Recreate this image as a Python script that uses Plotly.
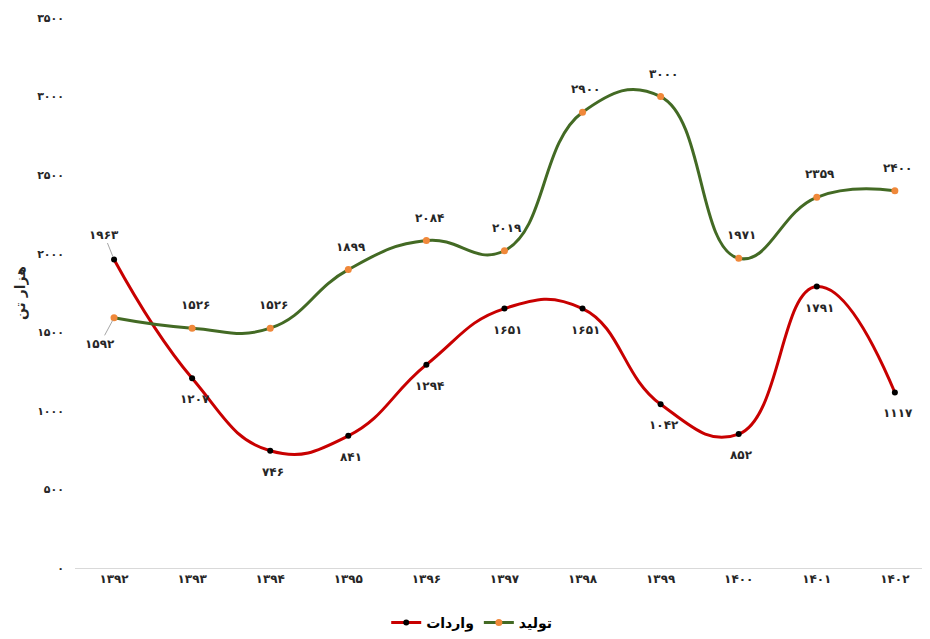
import plotly.graph_objects as go

years = ["1392", "1393", "1394", "1395", "1396", "1397", "1398", "1399", "1400", "1401", "1402"]
imports = [1963, 1207, 746, 841, 1294, 1651, 1651, 1042, 852, 1791, 1117]
production = [1592, 1526, 1526, 1899, 2084, 2019, 2900, 3000, 1971, 2359, 2400]
y_ticks = [0, 500, 1000, 1500, 2000, 2500, 3000, 3500]

FA = str.maketrans("0123456789", "۰۱۲۳۴۵۶۷۸۹")
def fa(v):
    return str(v).translate(FA)

x_idx = list(range(len(years)))
FONT = "DejaVu Sans"

fig = go.Figure()
fig.add_trace(go.Scatter(
    x=x_idx, y=imports, name="واردات", mode="lines+markers",
    line=dict(color="#C80000", width=3, shape="spline", smoothing=1.3),
    marker=dict(color="#000000", size=6),
))
fig.add_trace(go.Scatter(
    x=x_idx, y=production, name="تولید", mode="lines+markers",
    line=dict(color="#436A24", width=3, shape="spline", smoothing=1.3),
    marker=dict(color="#F0883A", size=7),
))

lab_font = dict(family=FONT, size=12, color="#262626", weight="bold")
for i, v in enumerate(production):
    if i == 0:
        fig.add_annotation(x=i, y=v, text=fa(v), showarrow=True, arrowhead=0,
                           arrowwidth=1, arrowcolor="#A6A6A6", ax=-14, ay=26,
                           standoff=3, font=lab_font)
    else:
        fig.add_annotation(x=i, y=v, text=fa(v), showarrow=False, xshift=3,
                           yshift=23, font=lab_font)
for i, v in enumerate(imports):
    if i == 0:
        fig.add_annotation(x=i, y=v, text=fa(v), showarrow=True, arrowhead=0,
                           arrowwidth=1, arrowcolor="#A6A6A6", ax=-10, ay=-25,
                           standoff=3, font=lab_font)
    else:
        fig.add_annotation(x=i, y=v, text=fa(v), showarrow=False, xshift=3,
                           yshift=-21, font=lab_font)

fig.add_annotation(xref="paper", yref="paper", x=(12 - 67) / 855, y=0.5,
                   xanchor="center", yanchor="middle", text="هزار تن",
                   textangle=-90, showarrow=False,
                   font=dict(family=FONT, size=14, color="#262626", weight="bold"))

fig.update_layout(
    width=922, height=631,
    margin=dict(l=67, r=0, t=10, b=69),
    plot_bgcolor="white", paper_bgcolor="white",
    font=dict(family=FONT, color="#262626"),
    showlegend=True,
    legend=dict(orientation="h", x=0.464, xanchor="center", y=-0.10, yanchor="middle",
                font=dict(family=FONT, size=14, color="#000000", weight="bold")),
    xaxis=dict(range=[-0.5, 10.45], tickvals=x_idx, ticktext=[fa(y) for y in years],
               showgrid=False, zeroline=False, showline=True, linecolor="#D9D9D9",
               linewidth=1, ticks="", tickfont=dict(family=FONT, size=12, color="#262626", weight="bold")),
    yaxis=dict(range=[0, 3500], tickvals=y_ticks, ticktext=[fa(t) for t in y_ticks],
               showgrid=False, zeroline=False, showline=False, ticks="",
               ticklabelstandoff=10,
               tickfont=dict(family=FONT, size=11, color="#262626", weight="bold")),
)

fig.write_html("out.html")
